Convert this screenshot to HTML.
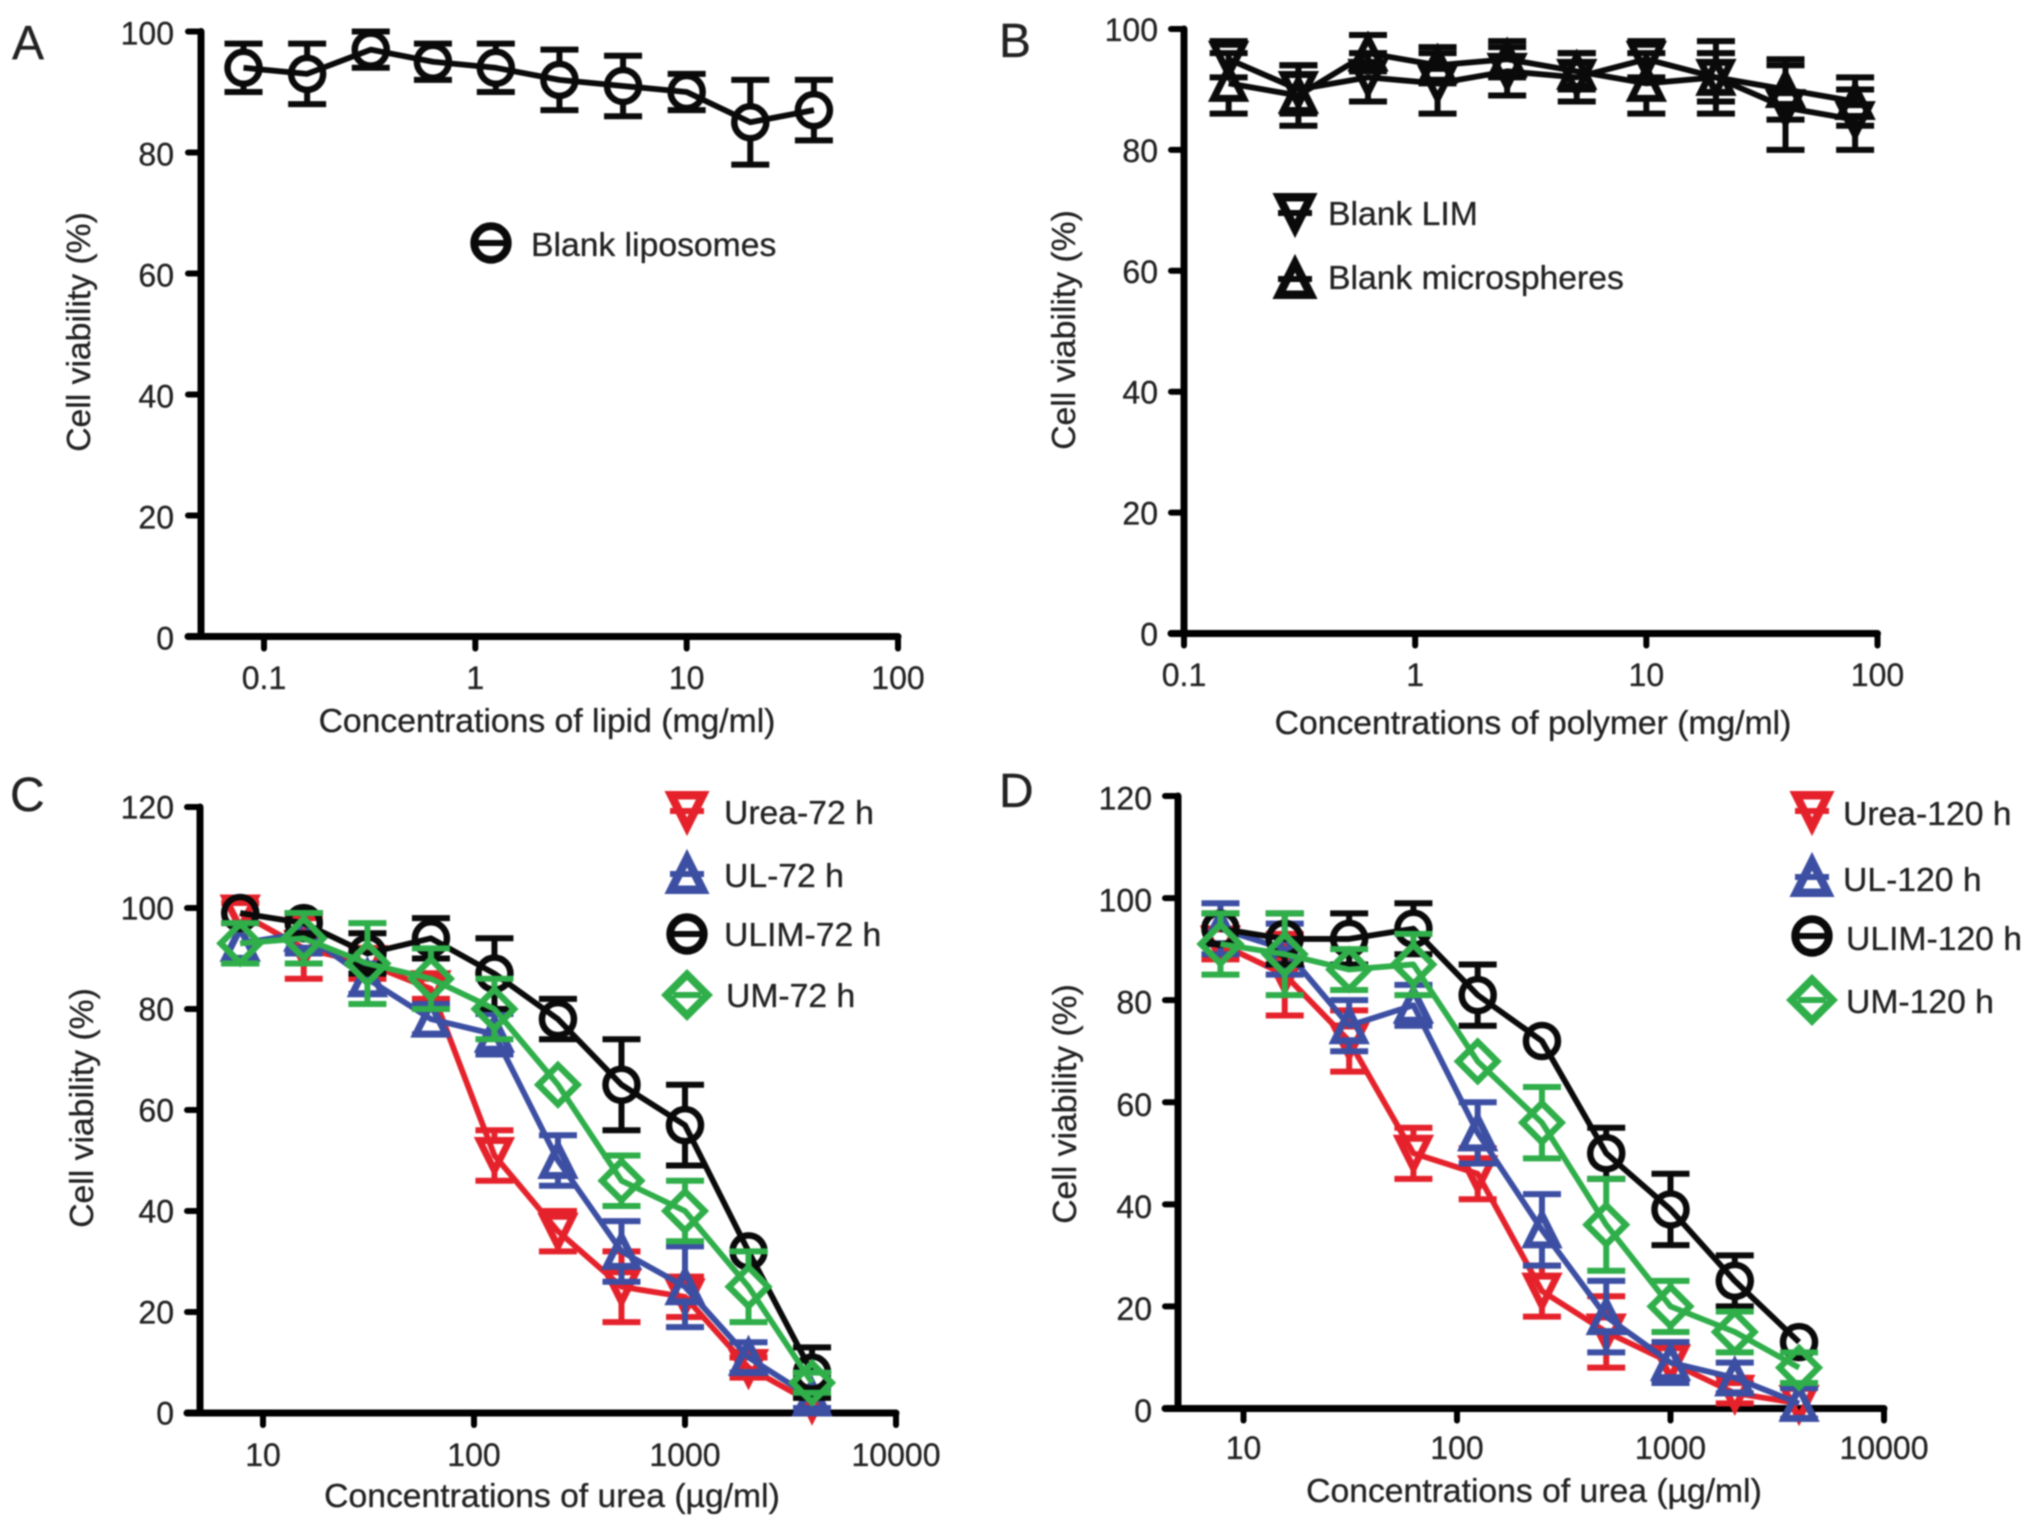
<!DOCTYPE html>
<html lang="en">
<head>
<meta charset="utf-8">
<title>Cell viability panels A-D</title>
<style>
html,body{margin:0;padding:0;background:#fff;}
svg{display:block;filter:blur(0.7px);}
text{font-family:"Liberation Sans",sans-serif;fill:#222;stroke:#222;stroke-width:0.3px;}
.t{font-size:33.7px;}
.l{font-size:32px;}
.p{font-size:48px;}
</style>
</head>
<body>
<svg id="chart" xmlns="http://www.w3.org/2000/svg" width="2032" height="1527" viewBox="0 0 2032 1527">
<rect x="0" y="0" width="2032" height="1527" fill="#fff"/>
<text class="p" x="12" y="59">A</text>
<text class="p" x="999" y="57">B</text>
<text class="p" x="10" y="811">C</text>
<text class="p" x="999" y="807">D</text>

<text class="t" text-anchor="middle" x="547" y="732">Concentrations of lipid (mg/ml)</text>
<text class="t" text-anchor="middle" x="1533" y="734">Concentrations of polymer (mg/ml)</text>
<text class="t" text-anchor="middle" x="552" y="1507">Concentrations of urea (µg/ml)</text>
<text class="t" text-anchor="middle" x="1534" y="1502">Concentrations of urea (µg/ml)</text>

<text class="t" text-anchor="middle" transform="translate(90,332) rotate(-90)">Cell viability (%)</text>
<text class="t" text-anchor="middle" transform="translate(1075,330) rotate(-90)">Cell viability (%)</text>
<text class="t" text-anchor="middle" transform="translate(93,1108) rotate(-90)">Cell viability (%)</text>
<text class="t" text-anchor="middle" transform="translate(1076,1104) rotate(-90)">Cell viability (%)</text>

<text class="t" x="531" y="256">Blank liposomes</text>
<text class="t" x="1328" y="225">Blank LIM</text>
<text class="t" x="1328" y="289">Blank microspheres</text>
<text class="t" x="724" y="824">Urea-72 h</text>
<text class="t" x="724" y="887">UL-72 h</text>
<text class="t" x="724" y="946">ULIM-72 h</text>
<text class="t" x="726" y="1007">UM-72 h</text>
<text class="t" x="1843" y="825">Urea-120 h</text>
<text class="t" x="1843" y="891">UL-120 h</text>
<text class="t" x="1846" y="950">ULIM-120 h</text>
<text class="t" x="1846" y="1013">UM-120 h</text>
</svg>
<script>
// ---- data ----
const lipidDoses = [0.08,0.16,0.32,0.63,1.25,2.5,5,10,20,40];
const blankLiposomes = [94,93,97,95,94,92,91,90,85,87];
const blankLiposomesErr = [4,5,3,3,4,5,5,3,7,5];
const lipidXTicks = [0.1,1,10,100];
const viabilityTicks100 = [0,20,40,60,80,100];

const polymerDoses = [0.156,0.3125,0.625,1.25,2.5,5,10,20,40,80];
const blankLim = [95,90,92,91,93,92,95,92,87,85];
const blankLimErr = [3,4,4,5,4,4,3,6,7,5];
const blankMicro = [91,89,96,94,95,93,91,92,90,88];
const blankMicroErr = [5,5,3,3,3,3,5,4,5,4];
const polymerXTicks = [0.1,1,10,100];

const ureaDoses = [7.8,15.6,31.25,62.5,125,250,500,1000,2000,4000];
const ureaXTicks = [10,100,1000,10000];
const viabilityTicks120 = [0,20,40,60,80,100,120];

const urea72 = [99,92,89,84,51,36,25,23,9,2];
const urea72Err = [2,6,3,2,5,4,7,4,2,1];
const ul72 = [93,95,86,78,75,50,32,25,11,3];
const ul72Err = [4,4,3,3,4,5,6,8,3,2];
const ulim72 = [99,97,91,94,87,78,65,57,32,8];
const ulim72Err = [1,2,4,4,7,4,9,8,1,5];
const um72 = [93,94,89,86,80,65,46,40,25,6];
const um72Err = [4,5,8,6,6,1,5,6,7,2];

const urea120 = [91,85,72,50,46,23,15,9,3,1];
const urea120Err = [3,8,6,5,5,5,7,4,2,1];
const ul120 = [94,90,75,79,54,35,18,9,6,1];
const ul120Err = [5,5,5,4,6,7,7,4,3,3];
const ulim120 = [94,92,92,94,81,72,50,39,25,13];
const ulim120Err = [3,5,5,5,6,1,5,7,5,1];
const um120 = [91,89,86,87,68,56,36,20,15,8];
const um120Err = [6,8,4,6,1,7,9,5,4,3];

// ---- drawing ----
const RED = '#e5222b', BLUE = '#3c4fa3', GREEN = '#2fae4a', BLACK = '#0a0a0a';
const svg = document.getElementById('chart');
const NS = 'http://www.w3.org/2000/svg';

function make(parent, tag, attrs) {
  const node = document.createElementNS(NS, tag);
  for (const k in attrs) node.setAttribute(k, attrs[k]);
  parent.appendChild(node);
  return node;
}
function fmt(v) { return String(v); }

function xScale(p, v) {
  const t = (Math.log10(v) - p.logLo) / (p.logHi - p.logLo);
  return p.xLo + t * (p.xHi - p.xLo);
}
function yScale(p, v) {
  return p.yBottom - (v / p.yMax) * (p.yBottom - p.yTop);
}

function markerGap(kind) {
  return kind === 'diamond' ? 19 : kind === 'circle' ? 17 : 15;
}

function drawMarker(g, kind, cx, cy, color, scale, weight) {
  let el;
  const base = {fill: 'none', stroke: color, 'stroke-miterlimit': 6};
  const r = scale;
  if (kind === 'circle') {
    base['stroke-width'] = 6.5 * weight;
    el = make(g, 'circle', Object.assign({cx: cx, cy: cy, r: 16 * r}, base));
  } else if (kind === 'up') {
    base['stroke-width'] = 7 * weight;
    el = make(g, 'path', Object.assign({d: 'M' + cx + ' ' + (cy - 15 * r) + 'L' + (cx + 15 * r) + ' ' + (cy + 15 * r) + 'L' + (cx - 15 * r) + ' ' + (cy + 15 * r) + 'Z'}, base));
  } else if (kind === 'down') {
    base['stroke-width'] = 7 * weight;
    el = make(g, 'path', Object.assign({d: 'M' + cx + ' ' + (cy + 15 * r) + 'L' + (cx + 15 * r) + ' ' + (cy - 15 * r) + 'L' + (cx - 15 * r) + ' ' + (cy - 15 * r) + 'Z'}, base));
  } else {
    base['stroke-width'] = 6.5 * weight;
    el = make(g, 'path', Object.assign({d: 'M' + cx + ' ' + (cy - 19.5 * r) + 'L' + (cx + 19.5 * r) + ' ' + cy + 'L' + cx + ' ' + (cy + 19.5 * r) + 'L' + (cx - 19.5 * r) + ' ' + cy + 'Z'}, base));
  }
  
  
  return el;
}

function drawAxes(p, xTicks, yTicks) {
  const g = make(svg, 'g', {stroke: '#000', 'stroke-width': 7, fill: 'none', 'stroke-linecap': 'round'});
  
  
  const yAxis = make(g, 'line', {x1: p.xAxisAt, x2: p.xAxisAt, y1: p.yTop, y2: p.yBottom});
  
  
  const xAxis = make(g, 'line', {x1: p.xAxisAt - 13, x2: xScale(p, xTicks[xTicks.length - 1]), y1: p.yBottom, y2: p.yBottom});
  
  
  yTicks.forEach(function (v) {
    const y = yScale(p, v);
    const tick = make(g, 'line', {x1: p.xAxisAt - 13, x2: p.xAxisAt, y1: y, y2: y, 'stroke-width': 6});
    
    
    const lab = make(svg, 'text', {x: p.yLabelRight, y: y + p.yLabelDy, 'text-anchor': 'end', 'class': 'l'});
    lab.textContent = fmt(v);
    
    
  });
  xTicks.forEach(function (v) {
    const x = xScale(p, v);
    const tick = make(g, 'line', {x1: x, x2: x, y1: p.yBottom, y2: p.yBottom + 12, 'stroke-width': 6});
    
    
    const lab = make(svg, 'text', {x: x, y: p.xLabelBase, 'text-anchor': 'middle', 'class': 'l'});
    lab.textContent = fmt(v);
    
    
  });
}

function drawSeries(p, xs, s) {
  const g = make(svg, 'g', {});
  
  
  const capHalf = 19;
  const gap = markerGap(s.kind);
  xs.forEach(function (xv, i) {
    const x = xScale(p, xv);
    const cy = yScale(p, s.values[i]);
    const hi = yScale(p, s.values[i] + s.errors[i]);
    const lo = yScale(p, s.values[i] - s.errors[i]);
    // error bars much smaller than the symbol are hidden, as in the source figure
    if (lo - cy < 8) return;
    let d = 'M' + (x - capHalf) + ' ' + hi + 'H' + (x + capHalf) + 'M' + (x - capHalf) + ' ' + lo + 'H' + (x + capHalf);
    if (cy - hi > gap) d += 'M' + x + ' ' + hi + 'V' + (cy - gap);
    if (lo - cy > gap) d += 'M' + x + ' ' + (cy + gap) + 'V' + lo;
    const bar = make(g, 'path', {d: d, stroke: s.color, 'stroke-width': 6, fill: 'none'});
    
    
  });
  xs.forEach(function (xv, i) {
    drawMarker(g, s.kind, xScale(p, xv), yScale(p, s.values[i]), s.color, 1, 1);
  });
  const pts = xs.map(function (xv, i) { return xScale(p, xv) + ',' + yScale(p, s.values[i]); }).join(' ');
  const line = make(g, 'polyline', {points: pts, fill: 'none', stroke: s.color, 'stroke-width': 5.8, 'stroke-linejoin': 'round'});
  
  
}

function drawLegendMarker(name, kind, cx, cy, color) {
  const g = make(svg, 'g', {});
  
  
  drawMarker(g, kind, cx, cy, color, 1.05, 1.2);
  const half = kind === 'diamond' ? 14 : 17;
  const bar = make(g, 'line', {x1: cx - half, x2: cx + half, y1: cy, y2: cy, stroke: color, 'stroke-width': 6});
  
  
}

const panelA = {id: 'panel-a', xAxisAt: 201, xLo: 264, xHi: 898, logLo: -1, logHi: 2, yBottom: 636.5, yTop: 31.5, yMax: 100, yLabelRight: 174, yLabelDy: 13, xLabelBase: 689};
const panelB = {id: 'panel-b', xAxisAt: 1184, xLo: 1184, xHi: 1877.5, logLo: -1, logHi: 2, yBottom: 633.5, yTop: 29, yMax: 100, yLabelRight: 1158, yLabelDy: 12, xLabelBase: 686};
const panelC = {id: 'panel-c', xAxisAt: 200, xLo: 263, xHi: 896, logLo: 1, logHi: 4, yBottom: 1413, yTop: 807, yMax: 120, yLabelRight: 174, yLabelDy: 11.5, xLabelBase: 1466};
const panelD = {id: 'panel-d', xAxisAt: 1178, xLo: 1243.5, xHi: 1884, logLo: 1, logHi: 4, yBottom: 1408.5, yTop: 796, yMax: 120, yLabelRight: 1152, yLabelDy: 13.5, xLabelBase: 1459};

drawAxes(panelA, lipidXTicks, viabilityTicks100);
drawSeries(panelA, lipidDoses, {name: 'blank-liposomes', values: blankLiposomes, errors: blankLiposomesErr, color: BLACK, kind: 'circle'});
drawLegendMarker('blank-liposomes', 'circle', 491, 243, BLACK);

drawAxes(panelB, polymerXTicks, viabilityTicks100);
drawSeries(panelB, polymerDoses, {name: 'blank-microspheres', values: blankMicro, errors: blankMicroErr, color: BLACK, kind: 'up'});
drawSeries(panelB, polymerDoses, {name: 'blank-lim', values: blankLim, errors: blankLimErr, color: BLACK, kind: 'down'});
drawLegendMarker('blank-lim', 'down', 1295, 213, BLACK);
drawLegendMarker('blank-microspheres', 'up', 1295, 279, BLACK);

drawAxes(panelC, ureaXTicks, viabilityTicks120);
drawSeries(panelC, ureaDoses, {name: 'urea-72h', values: urea72, errors: urea72Err, color: RED, kind: 'down'});
drawSeries(panelC, ureaDoses, {name: 'ul-72h', values: ul72, errors: ul72Err, color: BLUE, kind: 'up'});
drawSeries(panelC, ureaDoses, {name: 'ulim-72h', values: ulim72, errors: ulim72Err, color: BLACK, kind: 'circle'});
drawSeries(panelC, ureaDoses, {name: 'um-72h', values: um72, errors: um72Err, color: GREEN, kind: 'diamond'});
drawLegendMarker('urea-72h', 'down', 687, 811, RED);
drawLegendMarker('ul-72h', 'up', 687, 874, BLUE);
drawLegendMarker('ulim-72h', 'circle', 687, 934, BLACK);
drawLegendMarker('um-72h', 'diamond', 687, 995, GREEN);

drawAxes(panelD, ureaXTicks, viabilityTicks120);
drawSeries(panelD, ureaDoses, {name: 'urea-120h', values: urea120, errors: urea120Err, color: RED, kind: 'down'});
drawSeries(panelD, ureaDoses, {name: 'ul-120h', values: ul120, errors: ul120Err, color: BLUE, kind: 'up'});
drawSeries(panelD, ureaDoses, {name: 'ulim-120h', values: ulim120, errors: ulim120Err, color: BLACK, kind: 'circle'});
drawSeries(panelD, ureaDoses, {name: 'um-120h', values: um120, errors: um120Err, color: GREEN, kind: 'diamond'});
drawLegendMarker('urea-120h', 'down', 1812, 811, RED);
drawLegendMarker('ul-120h', 'up', 1812, 877, BLUE);
drawLegendMarker('ulim-120h', 'circle', 1812, 936, BLACK);
drawLegendMarker('um-120h', 'diamond', 1812, 1000, GREEN);
</script>
</body>
</html>
